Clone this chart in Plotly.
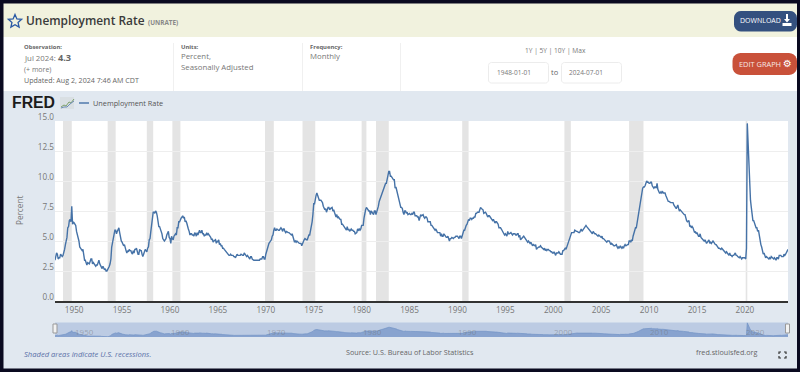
import math
import pandas as pd
import plotly.graph_objects as go

START = "1948-01-01"
unrate_1940s = [3.4,3.8,4.0,3.9,3.5,3.6,3.6,3.9,3.8,3.7,3.8,4.0,
 4.3,4.7,5.0,5.3,6.1,6.2,6.7,6.8,6.6,7.9,6.4,6.6]
unrate_1950s = [6.5,6.4,6.3,5.8,5.5,5.4,5.0,4.5,4.4,4.2,4.2,4.3,
 3.7,3.4,3.4,3.1,3.0,3.2,3.1,3.1,3.3,3.5,3.5,3.1,
 3.2,3.1,2.9,2.9,3.0,3.0,3.2,3.4,3.1,3.0,2.8,2.7,
 2.9,2.6,2.6,2.7,2.5,2.5,2.6,2.7,2.9,3.1,3.5,4.5,
 4.9,5.2,5.7,5.9,5.9,5.6,5.8,6.0,6.1,5.7,5.3,5.0,
 4.9,4.7,4.6,4.7,4.3,4.2,4.0,4.2,4.1,4.3,4.2,4.2,
 4.0,3.9,4.2,4.0,4.3,4.3,4.4,4.1,3.9,3.9,4.3,4.2,
 4.2,3.9,3.7,3.9,4.1,4.3,4.2,4.1,4.4,4.5,5.1,5.2,
 5.8,6.4,6.7,7.4,7.4,7.3,7.5,7.4,7.1,6.7,6.2,6.2,
 6.0,5.9,5.6,5.2,5.1,5.0,5.1,5.2,5.5,5.7,5.8,5.3]
unrate_1960s = [5.2,4.8,5.4,5.2,5.1,5.4,5.5,5.6,5.5,6.1,6.1,6.6,
 6.6,6.9,6.9,7.0,7.1,6.9,7.0,6.6,6.7,6.5,6.1,6.0,
 5.8,5.5,5.6,5.6,5.5,5.5,5.4,5.7,5.6,5.4,5.7,5.5,
 5.7,5.9,5.7,5.7,5.9,5.6,5.6,5.4,5.5,5.5,5.7,5.5,
 5.6,5.4,5.4,5.3,5.1,5.2,4.9,5.0,5.1,5.1,4.8,5.0,
 4.9,5.1,4.7,4.8,4.6,4.6,4.4,4.4,4.3,4.2,4.1,4.0,
 4.0,3.8,3.8,3.8,3.9,3.8,3.8,3.8,3.7,3.7,3.6,3.8,
 3.9,3.8,3.8,3.8,3.8,3.9,3.8,3.8,3.8,4.0,3.9,3.8,
 3.7,3.8,3.7,3.5,3.5,3.7,3.7,3.5,3.4,3.4,3.4,3.4,
 3.4,3.4,3.4,3.4,3.4,3.5,3.5,3.5,3.7,3.7,3.5,3.5]
unrate_1970s = [3.9,4.2,4.4,4.6,4.8,4.9,5.0,5.1,5.4,5.5,5.9,6.1,
 5.9,5.9,6.0,5.9,5.9,5.9,6.0,6.1,6.0,5.8,6.0,6.0,
 5.8,5.7,5.8,5.7,5.7,5.7,5.6,5.6,5.5,5.6,5.3,5.2,
 4.9,5.0,4.9,5.0,4.9,4.9,4.8,4.8,4.8,4.6,4.8,4.9,
 5.1,5.2,5.1,5.1,5.1,5.4,5.5,5.5,5.9,6.0,6.6,7.2,
 8.1,8.1,8.6,8.8,9.0,8.8,8.6,8.4,8.4,8.4,8.3,8.2,
 7.9,7.7,7.6,7.7,7.4,7.6,7.8,7.8,7.6,7.7,7.8,7.8,
 7.5,7.6,7.4,7.2,7.0,7.2,6.9,7.0,6.8,6.8,6.8,6.4,
 6.4,6.3,6.3,6.1,6.0,5.9,6.2,5.9,6.0,5.8,5.9,6.0,
 5.9,5.9,5.8,5.8,5.6,5.7,5.7,6.0,5.9,6.0,5.9,6.0]
unrate_1980s = [6.3,6.3,6.3,6.9,7.5,7.6,7.8,7.7,7.5,7.5,7.5,7.2,
 7.5,7.4,7.4,7.2,7.5,7.5,7.2,7.4,7.6,7.9,8.3,8.5,
 8.6,8.9,9.0,9.3,9.4,9.6,9.8,9.8,10.1,10.4,10.8,10.8,
 10.4,10.4,10.3,10.2,10.1,10.1,9.4,9.5,9.2,8.8,8.5,8.3,
 8.0,7.8,7.8,7.7,7.4,7.2,7.5,7.5,7.3,7.4,7.2,7.3,
 7.3,7.2,7.2,7.3,7.2,7.4,7.4,7.1,7.1,7.1,7.0,7.0,
 6.7,7.2,7.2,7.1,7.2,7.2,7.0,6.9,7.0,7.0,6.9,6.6,
 6.6,6.6,6.6,6.3,6.3,6.2,6.1,6.0,5.9,6.0,5.8,5.7,
 5.7,5.7,5.7,5.4,5.6,5.4,5.4,5.6,5.4,5.4,5.3,5.3,
 5.4,5.2,5.0,5.2,5.2,5.3,5.2,5.2,5.3,5.3,5.4,5.4]
unrate_1990s = [5.4,5.3,5.2,5.4,5.4,5.2,5.5,5.7,5.9,5.9,6.2,6.3,
 6.4,6.6,6.8,6.7,6.9,6.9,6.8,6.9,6.9,7.0,7.0,7.3,
 7.3,7.4,7.4,7.4,7.6,7.8,7.7,7.6,7.6,7.3,7.4,7.4,
 7.3,7.1,7.0,7.1,7.1,7.0,6.9,6.8,6.7,6.8,6.6,6.5,
 6.6,6.6,6.5,6.4,6.1,6.1,6.1,6.0,5.9,5.8,5.6,5.5,
 5.6,5.4,5.4,5.8,5.6,5.6,5.7,5.7,5.6,5.5,5.6,5.6,
 5.6,5.5,5.5,5.6,5.6,5.3,5.5,5.1,5.2,5.2,5.4,5.4,
 5.3,5.2,5.2,5.1,4.9,5.0,4.9,4.8,4.9,4.7,4.6,4.7,
 4.6,4.6,4.7,4.3,4.4,4.5,4.5,4.5,4.6,4.5,4.4,4.4,
 4.3,4.4,4.2,4.3,4.2,4.3,4.3,4.2,4.2,4.1,4.1,4.0]
unrate_2000s = [4.0,4.1,4.0,3.8,4.0,4.0,4.0,4.1,3.9,3.9,3.9,3.9,
 4.2,4.2,4.3,4.4,4.3,4.5,4.6,4.9,5.0,5.3,5.5,5.7,
 5.7,5.7,5.7,5.9,5.8,5.8,5.8,5.7,5.7,5.7,5.9,6.0,
 5.8,5.9,5.9,6.0,6.1,6.3,6.2,6.1,6.1,6.0,5.8,5.7,
 5.7,5.6,5.8,5.6,5.6,5.6,5.5,5.4,5.4,5.5,5.4,5.4,
 5.3,5.4,5.2,5.2,5.1,5.0,5.0,4.9,5.0,5.0,5.0,4.9,
 4.7,4.8,4.7,4.7,4.6,4.6,4.7,4.7,4.5,4.4,4.5,4.4,
 4.6,4.5,4.4,4.5,4.4,4.6,4.7,4.6,4.7,4.7,4.7,5.0,
 5.0,4.9,5.1,5.0,5.4,5.6,5.8,6.1,6.1,6.5,6.8,7.3,
 7.8,8.3,8.7,9.0,9.4,9.5,9.5,9.6,9.8,10.0,9.9,9.9]
unrate_2010s = [9.8,9.8,9.9,9.9,9.6,9.4,9.4,9.5,9.5,9.4,9.8,9.3,
 9.1,9.0,9.0,9.1,9.0,9.1,9.0,9.0,9.0,8.8,8.6,8.5,
 8.3,8.3,8.2,8.2,8.2,8.2,8.2,8.0,7.8,7.8,7.7,7.9,
 8.0,7.7,7.5,7.6,7.5,7.5,7.3,7.2,7.2,7.2,6.9,6.7,
 6.6,6.7,6.7,6.2,6.3,6.1,6.2,6.1,5.9,5.7,5.8,5.6,
 5.7,5.5,5.4,5.4,5.6,5.3,5.2,5.1,5.0,5.0,5.1,5.0,
 4.8,4.9,5.0,5.1,4.8,4.9,4.8,4.9,5.0,4.9,4.7,4.7,
 4.7,4.6,4.4,4.4,4.4,4.3,4.3,4.4,4.3,4.2,4.2,4.1,
 4.0,4.1,4.0,4.0,3.8,4.0,3.8,3.8,3.7,3.8,3.8,3.9,
 4.0,3.8,3.8,3.7,3.6,3.6,3.7,3.6,3.5,3.6,3.6,3.6]
unrate_2020s = [3.6,3.5,4.4,14.8,13.2,11.0,10.2,8.4,7.8,6.9,6.7,6.7,
 6.4,6.2,6.1,6.1,5.8,5.9,5.4,5.1,4.7,4.5,4.2,3.9,
 4.0,3.8,3.6,3.7,3.6,3.6,3.5,3.6,3.5,3.7,3.6,3.5,
 3.5,3.6,3.5,3.4,3.6,3.6,3.5,3.8,3.8,3.8,3.7,3.7,
 3.7,3.9,3.8,3.9,4.0,4.1,4.3]
recession_starts = ["1948-11-01","1953-07-01","1957-08-01","1960-04-01","1969-12-01","1973-11-01",
                    "1980-01-01","1981-07-01","1990-07-01","2001-03-01","2007-12-01","2020-02-01"]
recession_ends = ["1949-10-01","1954-05-01","1958-04-01","1961-02-01","1970-11-01","1975-03-01",
                  "1980-07-01","1982-11-01","1991-03-01","2001-11-01","2009-06-01","2020-04-01"]
y_ticks = [0, 2.5, 5, 7.5, 10, 12.5, 15]
nav_labels = [1950, 1960, 1970, 1980, 1990, 2000, 2010, 2020]

values = (unrate_1940s + unrate_1950s + unrate_1960s + unrate_1970s +
          unrate_1980s + unrate_1990s + unrate_2000s + unrate_2010s + unrate_2020s)
dates = pd.date_range(START, periods=len(values), freq="MS")

W, H = 800, 372
FONT = "Open Sans"
BLUE = "#4572a7"
def px(x): return x / W
def py(y): return 1 - y / H

shapes, notes = [], []
def rect(x0, y0, x1, y1, fill, line=None):
    shapes.append(dict(type="rect", xref="paper", yref="paper", layer="below",
                       x0=px(x0), y0=py(y0), x1=px(x1), y1=py(y1), fillcolor=fill,
                       line=dict(width=1 if line else 0, color=line or fill)))
def poly(pts, fill=None, line=None, width=1, close=True):
    d = "M" + " L".join(f"{px(a):.5f},{py(b):.5f}" for a, b in pts) + (" Z" if close else "")
    shapes.append(dict(type="path", xref="paper", yref="paper", layer="below", path=d,
                       fillcolor=fill or "rgba(0,0,0,0)",
                       line=dict(width=width if line else 0, color=line or "rgba(0,0,0,0)")))
def rrect(x0, y0, x1, y1, r, fill, line=None):
    n = 5
    pts = []
    for cx, cy, a0 in [(x1-r, y0+r, -90), (x1-r, y1-r, 0), (x0+r, y1-r, 90), (x0+r, y0+r, 180)]:
        for i in range(n+1):
            a = math.radians(a0 + 90*i/n)
            pts.append((cx + r*math.cos(a), cy + r*math.sin(a)))
    poly(pts, fill, line)
def txt(x, y, s, size=9, color="#666666", anchor="left", weight=400, **kw):
    notes.append(dict(xref="paper", yref="paper", x=px(x), y=py(y), text=s, showarrow=False,
                      xanchor=anchor, yanchor="middle", borderpad=0,
                      font=dict(family=kw.pop("family", FONT), size=size, color=color, weight=weight), **kw))

# page blocks
rect(3.5, 3.5, 797, 37, "#f1f2de")
rect(3.5, 37, 797, 91, "#ffffff")
rect(3.5, 91, 797, 368.5, "#e1e8f0")
rect(55, 121, 788, 301, "#ffffff")
for x in (173, 302, 400):
    rect(x, 43, x + 1, 91, "#f0f0f0")

# star
star = []
for i in range(10):
    r = 7 if i % 2 == 0 else 3.2
    a = math.radians(-90 + 36*i)
    star.append((15 + r*math.cos(a), 21.5 + r*math.sin(a)))
poly(star, None, "#2a5aa5", 1.3)

txt(25, 20.5, "Unemployment Rate", 11.9, "#3a3a3a", weight=600)
txt(147, 22.5, "(UNRATE)", 6.4, "#888888", weight=700)
txt(23, 47, "Observation:", 5.9, "#666666", weight=700)
txt(23, 58, "Jul 2024:", 7.8, "#777777")
txt(57, 57.5, "4.3", 9.2, "#666666", weight=700)
txt(23, 69, "(+ more)", 7, "#777777")
txt(23, 79.5, "Updated: Aug 2, 2024 7:46 AM CDT", 7.1, "#666666")
txt(180, 47, "Units:", 5.9, "#666666", weight=700)
txt(180, 56, "Percent,", 7.8, "#777777")
txt(180, 67, "Seasonally Adjusted", 7.8, "#777777")
txt(309, 47, "Frequency:", 5.9, "#666666", weight=700)
txt(309, 56, "Monthly", 7.8, "#777777")
txt(555, 50.5, "1Y | 5Y | 10Y | Max", 6.6, "#777777", "center")
rrect(488.5, 62.5, 548.5, 83, 3, "#ffffff", "#ececec")
rrect(561.5, 62.5, 621.5, 83, 3, "#ffffff", "#ececec")
txt(514, 72.5, "1948-01-01", 6.5, "#777777", "center")
txt(586, 72.5, "2024-07-01", 6.5, "#777777", "center")
txt(555, 72.5, "to", 7.5, "#666666", "center")

# buttons
rrect(734, 11, 797, 31.5, 7, "#34507f")
txt(739, 21, "DOWNLOAD", 7, "#ffffff")
poly([(786,14),(788,14),(788,19),(790,19),(787,22.5),(784,19),(786,19)], "#ffffff")
rect(782.5, 23, 791.5, 26, "#ffffff")
rrect(732.5, 53, 797, 75, 8, "#c9513a")
txt(738, 64, "EDIT GRAPH", 7.4, "#f7e8e4")
txt(787, 63.5, "⚙", 10, "#ffffff", "center", family="DejaVu Sans")

# FRED logo and legend
txt(10.5, 102.5, "FRED", 15.8, "#1c1c1c", weight=700, family="Liberation Sans")
rect(60, 97, 74, 109, "#d9dfe3")
poly([(61,107),(64,105),(66,106),(69,102),(71,103),(74,99)], None, "#7da06a", 1, False)
poly([(61,108),(64,107),(67,107),(70,104),(74,101)], None, "#6d8db5", 1, False)
poly([(79,103),(89,103)], None, BLUE, 1.4, False)
txt(92, 103, "Unemployment Rate", 7.3, "#555555")

# navigator band
rect(55, 322.5, 788, 337, "#bccbe3")

# footer
notes.append(dict(xref="paper", yref="paper", x=px(23), y=py(354), text="<i>Shaded areas indicate U.S. recessions.</i>",
                  showarrow=False, xanchor="left", yanchor="middle", borderpad=0,
                  font=dict(family=FONT, size=7.6, color="#5a70a8")))
txt(345, 352, "Source: U.S. Bureau of Labor Statistics", 7.2, "#666666")
txt(695, 352, "fred.stlouisfed.org", 7.2, "#666666")
for ax, ay, dx, dy in [(779,352,1,1),(786,352,-1,1),(779,358,1,-1),(786,358,-1,-1)]:
    poly([(ax+2*dx, ay),(ax, ay),(ax, ay+2*dy)], None, "#333333", 1.2, False)

# y-axis title
notes.append(dict(xref="paper", yref="paper", x=px(19), y=py(211), text="Percent", showarrow=False,
                  textangle=-90, xanchor="center", yanchor="middle", borderpad=0,
                  font=dict(family=FONT, size=8.2, color="#777777")))

# recessions from the named lists
for s, e in zip(recession_starts, recession_ends):
    shapes.append(dict(type="rect", xref="x", yref="y domain", layer="below", x0=s, x1=e, y0=0, y1=1,
                       fillcolor="#e4e4e4", line=dict(width=0)))

fig = go.Figure()
fig.add_trace(go.Scatter(x=dates, y=values, mode="lines", name="Unemployment Rate",
                         line=dict(color=BLUE, width=1.4), showlegend=False,
                         hovertemplate="%{x|%b %Y}: %{y}<extra></extra>"))
fig.add_trace(go.Scatter(x=dates, y=values, mode="lines", xaxis="x2", yaxis="y2", showlegend=False,
                         fill="tozeroy", fillcolor="#88a3cf", line=dict(color="#7394c6", width=0.7),
                         hoverinfo="skip"))

# navigator year labels
for yr in nav_labels:
    notes.append(dict(xref="x2", yref="paper", x=f"{yr}-01-01", y=py(331), text=str(yr), showarrow=False,
                      xanchor="left", yanchor="middle", borderpad=0,
                      font=dict(family=FONT, size=8, color="rgba(110,110,110,0.45)")))

handle = dict(type="rect", xref="paper", yref="paper", layer="above", fillcolor="#f2f2f2",
              line=dict(color="#999999", width=1))
for hx in (55, 787.5):
    shapes.append({**handle, "x0": px(hx-2), "x1": px(hx+2), "y0": py(324), "y1": py(333)})

axis_font = dict(family=FONT, size=8.2, color="#777777")
fig.update_layout(
    width=W, height=H, margin=dict(l=0, r=0, t=0, b=0), autosize=False,
    paper_bgcolor="#0a0a20", plot_bgcolor="rgba(0,0,0,0)",
    showlegend=False, shapes=shapes, annotations=notes,
    xaxis=dict(domain=[px(55), px(788)], anchor="y", type="date", range=[dates[0], dates[-1]],
               tick0="1950-01-01", dtick="M60", tickformat="%Y", ticks="", showgrid=False, automargin=False,
               tickfont=axis_font, showline=True, linecolor="#333333", linewidth=2, zeroline=False),
    yaxis=dict(domain=[py(301), py(121)], anchor="x", range=[0, 15], tickvals=y_ticks, automargin=False,
               ticktext=[f"{v:.1f}" for v in y_ticks], ticks="", tickfont=axis_font,
               gridcolor="#eeeeee", gridwidth=1, zeroline=False, ticklabelshift=-4),
    xaxis2=dict(domain=[px(55), px(788)], anchor="y2", type="date", range=[dates[0], dates[-1]],
                showticklabels=False, showgrid=False, ticks="", zeroline=False),
    yaxis2=dict(domain=[py(337), py(322.5)], anchor="x2", range=[2.3, 15], showticklabels=False,
                showgrid=False, ticks="", zeroline=False),
)
fig.write_html("out.html", config=dict(displayModeBar=False),
               post_script="document.body.style.margin='0';document.body.style.overflow='hidden';document.body.style.background='#0a0a20';")
